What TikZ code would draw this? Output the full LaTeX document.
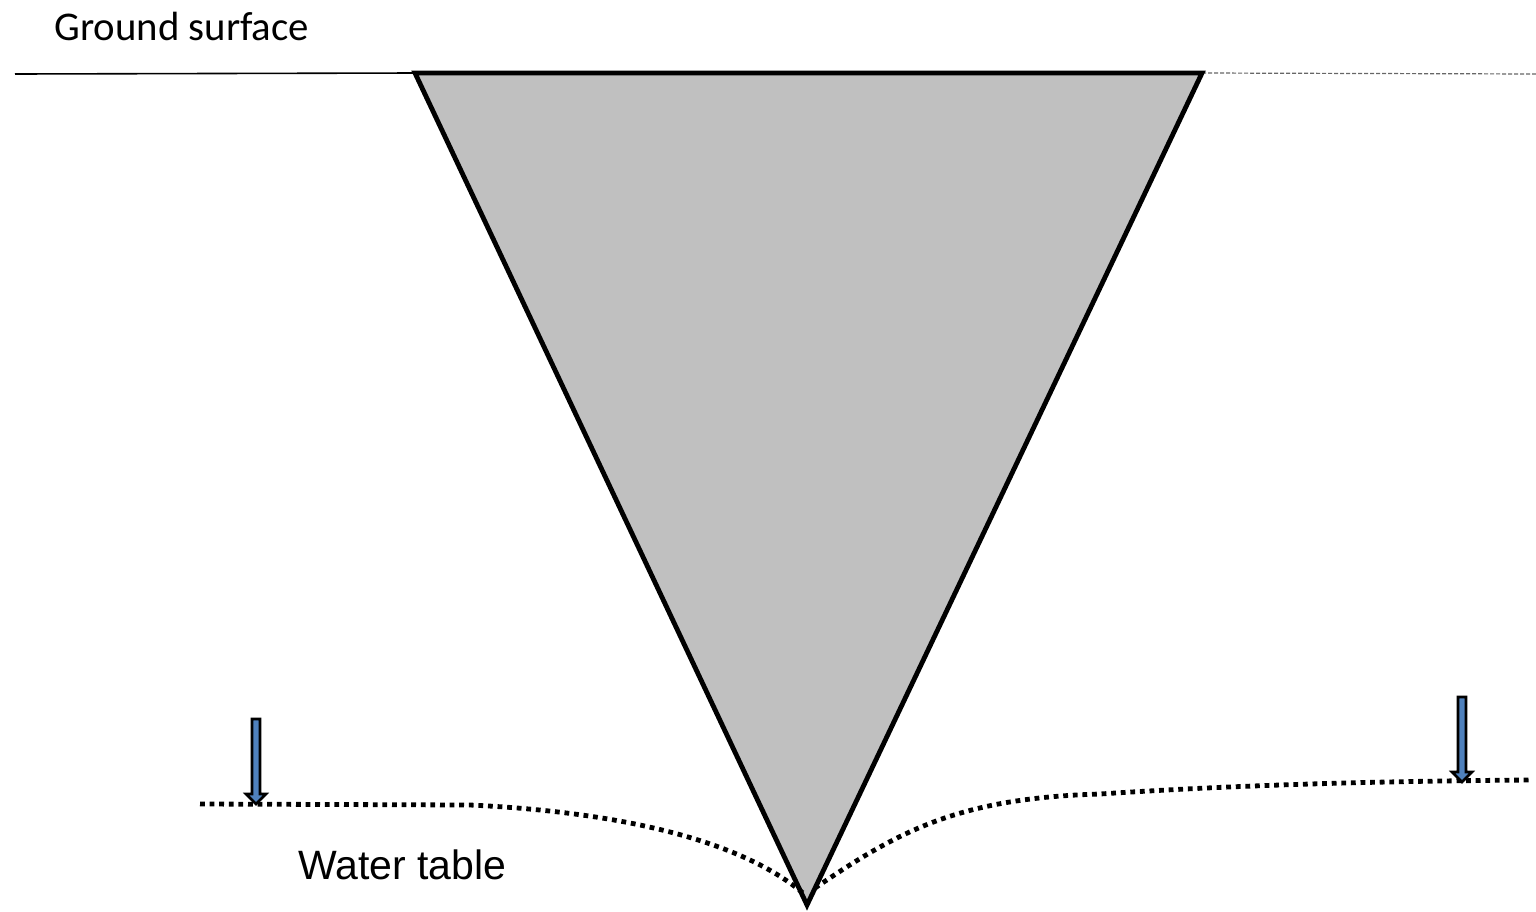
\documentclass[tikz,border=0pt]{standalone}
\usepackage{fontspec}
\setmainfont{Carlito}
\newfontfamily\arialfont{Liberation Sans}
\definecolor{conefill}{HTML}{C0C0C0}
\definecolor{arrowblue}{HTML}{4F81BD}
\begin{document}
\begin{tikzpicture}[x=0.5pt,y=-0.5pt,
  groundline/.style={line width=0.8pt,black},
  extline/.style={line width=0.6pt,black!60,dash pattern=on 2pt off 1pt},
  watertable/.style={line width=2.4pt,black,dash pattern=on 2.4pt off 2.4pt},
  cone/.style={fill=conefill,draw=black,line width=2.4pt,line join=miter},
  wtarrow/.style={fill=arrowblue,draw=black,line width=1.3pt,line join=miter}]
\useasboundingbox (0,0) rectangle (1536,911);
\node[anchor=base west,inner sep=0pt,font=\fontsize{20.4}{24}\selectfont] (gs) at (54,40) {Ground surface};
\node[anchor=base west,inner sep=0pt,font=\arialfont\fontsize{20.5}{24}\selectfont] (wt) at (298,879) {Water table};
\coordinate (tl) at (415,73);
\coordinate (tr) at (1202,73);
\coordinate (apex) at (807,905);
\coordinate (gl) at (15,74);
\coordinate (gr) at (1536,74);
\draw[groundline] (gl) -- (tl);
\draw[extline] (tr) -- (gr);
\draw[cone] (tl) -- (tr) -- (apex) -- cycle;
% water table
\coordinate (wl) at (200,804);
\coordinate (wlm) at (470,805);
\coordinate (wla) at (803,893);
\coordinate (wra) at (815,888);
\coordinate (wrm) at (1100,794);
\coordinate (wr) at (1530,780);
\draw[watertable] (wl) -- (wlm) .. controls (620,812) and (740,840) .. (wla);
\draw[watertable] (wra) .. controls (900,830) and (960,798) .. (wrm) .. controls (1250,784) and (1400,781) .. (wr);
% arrows
\draw[wtarrow] (252,719) -- (260,719) -- (260,794) -- (266,794) -- (256,804) -- (246,794) -- (252,794) -- cycle;
\draw[wtarrow] (1458,697) -- (1466,697) -- (1466,772) -- (1472,772) -- (1462,782) -- (1452,772) -- (1458,772) -- cycle;
\end{tikzpicture}
\end{document}
